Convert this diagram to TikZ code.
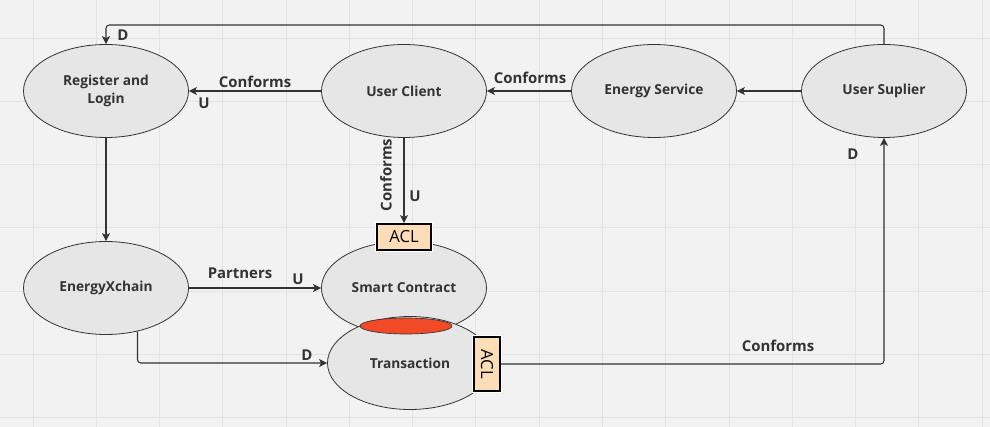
\documentclass[tikz,border=0pt]{standalone}
\usepackage{fontspec}
\setmainfont{Open Sans}
\usetikzlibrary{arrows.meta,shapes.geometric,calc}
\definecolor{bg}{HTML}{F2F2F2}
\definecolor{gridc}{HTML}{E3E3E3}
\definecolor{ellfill}{HTML}{E6E6E6}
\definecolor{ink}{HTML}{333333}
\definecolor{aclfill}{HTML}{FDDCB8}
\definecolor{redfill}{HTML}{F24A26}
\tikzset{
  ell/.style={ellipse, draw=ink, fill=ellfill, line width=0.6pt, minimum width=123.75pt, minimum height=69.75pt, inner sep=0pt, font=\bfseries\fontsize{10.3}{14}\selectfont, text=ink, align=center},
  lab/.style={font=\bfseries\fontsize{11.2}{13}\selectfont, text=ink, inner sep=1pt},
  arr/.style={draw=ink, line width=0.8pt, -{Stealth[length=6pt,width=6pt,inset=1.5pt]}, rounded corners=2.5pt},
  aclbox/.style={draw=black, line width=1.4pt, fill=aclfill, inner sep=0pt, font=\fontsize{12.5}{14}\selectfont, text=black, preaction={draw=white, line width=3pt}},
  redov/.style={ellipse, draw=ink, line width=0.5pt, fill=redfill, minimum width=69pt, minimum height=12pt, inner sep=0pt}
}
\begin{document}
\begin{tikzpicture}[x=0.75pt,y=-0.75pt]
\fill[bg] (0,0) rectangle (990,427);
\useasboundingbox (0,0) rectangle (990,427);
\foreach \i in {0,...,15} \draw[gridc, line width=0.6pt] ({33+63.27*\i},0) -- ++(0,427);
\foreach \j in {0,...,6} \draw[gridc, line width=0.6pt] (0,{38+63.3*\j}) -- ++(990,0);

% nodes
\node[ell] (reg) at (106,91) {Register and\\Login};
\node[ell] (client) at (404,91) {User Client};
\node[ell] (service) at (654,91) {Energy Service};
\node[ell] (supplier) at (884,91) {User Suplier};
\node[ell] (exchain) at (106,288) {EnergyXchain};
\node[ell] (smart) at (404,288) {Smart Contract};
\node[ell] (trans) at (410,363) {Transaction};
\node[redov] (red) at (406,326) {};
\node[aclbox, minimum width=40.5pt, minimum height=19.5pt] (acltop) at (404,237) {ACL};
\node[aclbox, minimum width=19.5pt, minimum height=40.5pt] (aclright) at (487,364) {\rotatebox{-90}{ACL}};

\coordinate (topy) at (0,25);

% connectors
\draw[arr] (supplier.north) |- (reg.north |- topy) -- (reg.north);
\draw[arr] (client.west) -- (reg.east);
\draw[arr] (service.west) -- (client.east);
\draw[arr] (supplier.west) -- (service.east);
\draw[arr] (reg.south) -- (exchain.north);
\draw[arr] (client.south) -- (acltop.north);
\draw[arr] (exchain.east) -- (smart.west);
\draw[arr] (exchain.-54) |- (trans.west);
\draw[arr] (aclright.east) -| (supplier.south);

% labels
\node[lab] (ld1) at (123,35) {D};
\node[lab] (lc1) at (255,82) {Conforms};
\node[lab] (lu1) at (204,103) {U};
\node[lab] (lc2) at (530,78) {Conforms};
\node[lab] (lc3) at (386,175) {\rotatebox{90}{Conforms}};
\node[lab] (lu2) at (415,196) {U};
\node[lab] (lp) at (240,273) {Partners};
\node[lab] (lu3) at (298,279) {U};
\node[lab] (ld2) at (307,355) {D};
\node[lab] (lc4) at (778,346) {Conforms};
\node[lab] (ld3) at (853,154) {D};
\end{tikzpicture}
\end{document}
